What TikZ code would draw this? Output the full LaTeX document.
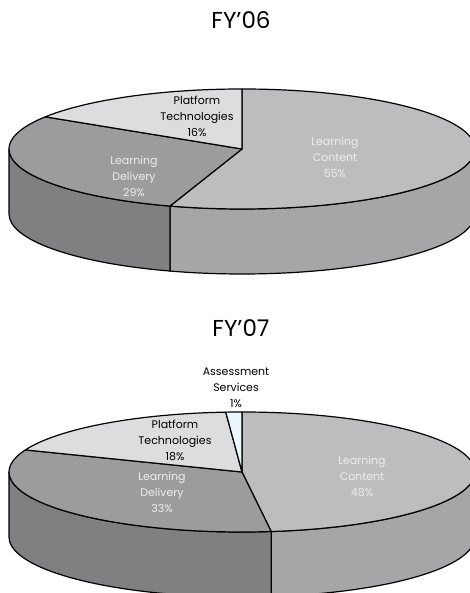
\documentclass[tikz,border=0pt]{standalone}
\usepackage{fontspec}
\setmainfont{Poppins}
\usetikzlibrary{calc}
\definecolor{contop}{HTML}{BDBDBF}
\definecolor{conside}{HTML}{A6A6A9}
\definecolor{deltop}{HTML}{9C9C9F}
\definecolor{delside}{HTML}{808083}
\definecolor{plattop}{HTML}{DDDDDF}
\definecolor{asstop}{HTML}{EAF5FC}
\definecolor{lbllight}{HTML}{EEEEEE}
\begin{document}
\begin{tikzpicture}[x=1pt,y=1pt,line width=1.2pt,line join=round,
  lbl/.style={align=center,font=\fontsize{11}{16}\selectfont,inner sep=0pt},
  dark/.style={lbl,text=lbllight},
  ttl/.style={font=\fontsize{23}{26}\selectfont,inner sep=0pt},
  rr/.style={x radius=233pt,y radius=60pt}]
\useasboundingbox (0,0) rectangle (470,593);
\clip (0,0) rectangle (470,593);
% ---------- FY'06 ----------
\node[ttl] (t1) at (241,573) {FY’06};
\coordinate (c1) at (242,444);
\filldraw[fill=conside] ($(c1)+(252:233pt and 60pt)$) arc[start angle=252,end angle=360,rr] -- ++(0,-65) arc[start angle=360,end angle=252,rr] -- cycle;
\filldraw[fill=delside] ($(c1)+(180:233pt and 60pt)$) arc[start angle=180,end angle=252,rr] -- ++(0,-65) arc[start angle=252,end angle=180,rr] -- cycle;
\filldraw[fill=contop] (c1) -- ($(c1)+(90:233pt and 60pt)$) arc[start angle=90,end angle=-108,rr] -- cycle;
\filldraw[fill=deltop] (c1) -- ($(c1)+(-108:233pt and 60pt)$) arc[start angle=-108,end angle=-212.4,rr] -- cycle;
\filldraw[fill=plattop] (c1) -- ($(c1)+(147.6:233pt and 60pt)$) arc[start angle=147.6,end angle=90,rr] -- cycle;
\node[lbl] (p1) at (197,477) {Platform\\Technologies\\16\%};
\node[dark] (d1) at (134,417) {Learning\\Delivery\\29\%};
\node[dark] (k1) at (335,436) {Learning\\Content\\55\%};
% ---------- FY'07 ----------
\node[ttl] (t2) at (241,265) {FY’07};
\coordinate (c2) at (242,121);
\filldraw[fill=conside] ($(c2)+(277.2:233pt and 60pt)$) arc[start angle=277.2,end angle=360,rr] -- ++(0,-65) arc[start angle=360,end angle=277.2,rr] -- cycle;
\filldraw[fill=delside] ($(c2)+(180:233pt and 60pt)$) arc[start angle=180,end angle=277.2,rr] -- ++(0,-65) arc[start angle=277.2,end angle=180,rr] -- cycle;
\filldraw[fill=contop] (c2) -- ($(c2)+(90:233pt and 60pt)$) arc[start angle=90,end angle=-82.8,rr] -- cycle;
\filldraw[fill=deltop] (c2) -- ($(c2)+(-82.8:233pt and 60pt)$) arc[start angle=-82.8,end angle=-201.6,rr] -- cycle;
\filldraw[fill=plattop] (c2) -- ($(c2)+(158.4:233pt and 60pt)$) arc[start angle=158.4,end angle=94,rr] -- cycle;
\filldraw[fill=asstop] (c2) -- ($(c2)+(94:233pt and 60pt)$) arc[start angle=94,end angle=90,rr] -- cycle;
\node[lbl] (a2) at (236,205) {Assessment\\Services\\1\%};
\node[lbl] (p2) at (175,153) {Platform\\Technologies\\18\%};
\node[dark] (d2) at (162,101) {Learning\\Delivery\\33\%};
\node[dark] (k2) at (362,117) {Learning\\Content\\48\%};
\end{tikzpicture}
\end{document}
